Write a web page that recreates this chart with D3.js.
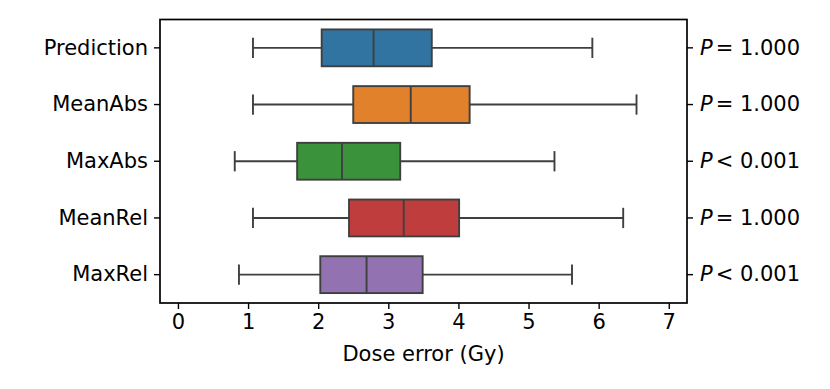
<!DOCTYPE html>
<html>
<head>
<meta charset="utf-8">
<script src="https://cdn.jsdelivr.net/npm/d3@7"></script>
<style>
  body { margin: 0; background: #fff; }
  svg { display: block; font-family: "DejaVu Sans", sans-serif; }
  .axis path, .axis line { stroke: #000; }
  .axis text { fill: #000; font-size: 21px; font-family: "DejaVu Sans", sans-serif; }
</style>
</head>
<body>
<div id="chart"></div>
<script>
// categories and five-number summaries (low whisker, Q1, median, Q3, high whisker)
const categories = ['Prediction', 'MeanAbs', 'MaxAbs', 'MeanRel', 'MaxRel'];
const whiskerLow = [1.07, 1.07, 0.81, 1.07, 0.87];
const q1 = [2.05, 2.50, 1.70, 2.44, 2.03];
const median = [2.79, 3.32, 2.34, 3.22, 2.69];
const q3 = [3.62, 4.16, 3.17, 4.01, 3.49];
const whiskerHigh = [5.91, 6.54, 5.37, 6.35, 5.62];
const pLabels = ['= 1.000', '= 1.000', '< 0.001', '= 1.000', '< 0.001'];
const xTicks = [0, 1, 2, 3, 4, 5, 6, 7];
const colors = ['#3274a1', '#e1812c', '#3a923a', '#c03d3e', '#9372b2'];

const width = 830, height = 389;
const marginLeft = 160, marginRight = 143, marginTop = 19.5, marginBottom = 86;
const chartWidth = width - marginLeft - marginRight;
const chartHeight = height - marginTop - marginBottom;

const data = categories.map((c, i) => ({
  name: c, lo: whiskerLow[i], q1: q1[i], med: median[i], q3: q3[i], hi: whiskerHigh[i],
  color: colors[i], p: pLabels[i]
}));

const svg = d3.select('#chart').append('svg')
  .attr('width', width)
  .attr('height', height);

const xScale = d3.scaleLinear().domain([-0.256, 7.26]).range([marginLeft, marginLeft + chartWidth]);
const yScale = d3.scaleBand().domain(categories).range([marginTop, marginTop + chartHeight]).padding(0);
const boxH = yScale.bandwidth() * 0.65;
const capH = boxH * 0.55;
const edge = '#3f3f3f';
const lw = 1.9;

const chart = svg.append('g').attr('class', 'boxes');

const rows = chart.selectAll('g.row').data(data).enter().append('g')
  .attr('class', 'row')
  .attr('transform', d => `translate(0,${yScale(d.name) + yScale.bandwidth() / 2})`);

// whiskers
rows.append('line')
  .attr('x1', d => xScale(d.lo)).attr('x2', d => xScale(d.q1))
  .attr('y1', 0).attr('y2', 0)
  .style('stroke', edge).style('stroke-width', lw);
rows.append('line')
  .attr('x1', d => xScale(d.q3)).attr('x2', d => xScale(d.hi))
  .attr('y1', 0).attr('y2', 0)
  .style('stroke', edge).style('stroke-width', lw);
// caps
rows.append('line')
  .attr('x1', d => xScale(d.lo)).attr('x2', d => xScale(d.lo))
  .attr('y1', -capH / 2).attr('y2', capH / 2)
  .style('stroke', edge).style('stroke-width', lw);
rows.append('line')
  .attr('x1', d => xScale(d.hi)).attr('x2', d => xScale(d.hi))
  .attr('y1', -capH / 2).attr('y2', capH / 2)
  .style('stroke', edge).style('stroke-width', lw);
// boxes
rows.append('rect')
  .attr('x', d => xScale(d.q1))
  .attr('y', -boxH / 2)
  .attr('width', d => xScale(d.q3) - xScale(d.q1))
  .attr('height', boxH)
  .style('fill', d => d.color)
  .style('stroke', edge).style('stroke-width', lw);
// medians
rows.append('line')
  .attr('x1', d => xScale(d.med)).attr('x2', d => xScale(d.med))
  .attr('y1', -boxH / 2).attr('y2', boxH / 2)
  .style('stroke', edge).style('stroke-width', lw);

// axes
const xAxis = svg.append('g')
  .attr('class', 'axis axis-x')
  .attr('transform', `translate(0,${marginTop + chartHeight})`)
  .call(d3.axisBottom(xScale).tickValues(xTicks).tickFormat(d3.format('d')).tickSize(6).tickPadding(5));

const yAxis = svg.append('g')
  .attr('class', 'axis axis-y')
  .attr('transform', `translate(${marginLeft},0)`)
  .call(d3.axisLeft(yScale).tickSize(6).tickPadding(6));

const yAxisRight = svg.append('g')
  .attr('class', 'axis axis-y2')
  .attr('transform', `translate(${marginLeft + chartWidth},0)`)
  .call(d3.axisRight(yScale).tickSize(6).tickPadding(7).tickFormat(''));

yAxisRight.selectAll('.tick text').each(function(d, i) {
  const t = d3.select(this);
  t.append('tspan').style('font-style', 'italic').text('P');
  t.append('tspan').attr('dx', 3).text(data[i].p);
});

svg.selectAll('.axis .domain').remove();
svg.selectAll('.axis line').style('stroke-width', 1.4);

// frame
svg.append('rect')
  .attr('x', marginLeft).attr('y', marginTop)
  .attr('width', chartWidth).attr('height', chartHeight)
  .style('fill', 'none').style('stroke', '#000').style('stroke-width', 1.7);

// x label
svg.append('text')
  .attr('x', marginLeft + chartWidth / 2)
  .attr('y', 361)
  .attr('text-anchor', 'middle')
  .style('font-size', '21px')
  .text('Dose error (Gy)');
</script>
</body>
</html>
